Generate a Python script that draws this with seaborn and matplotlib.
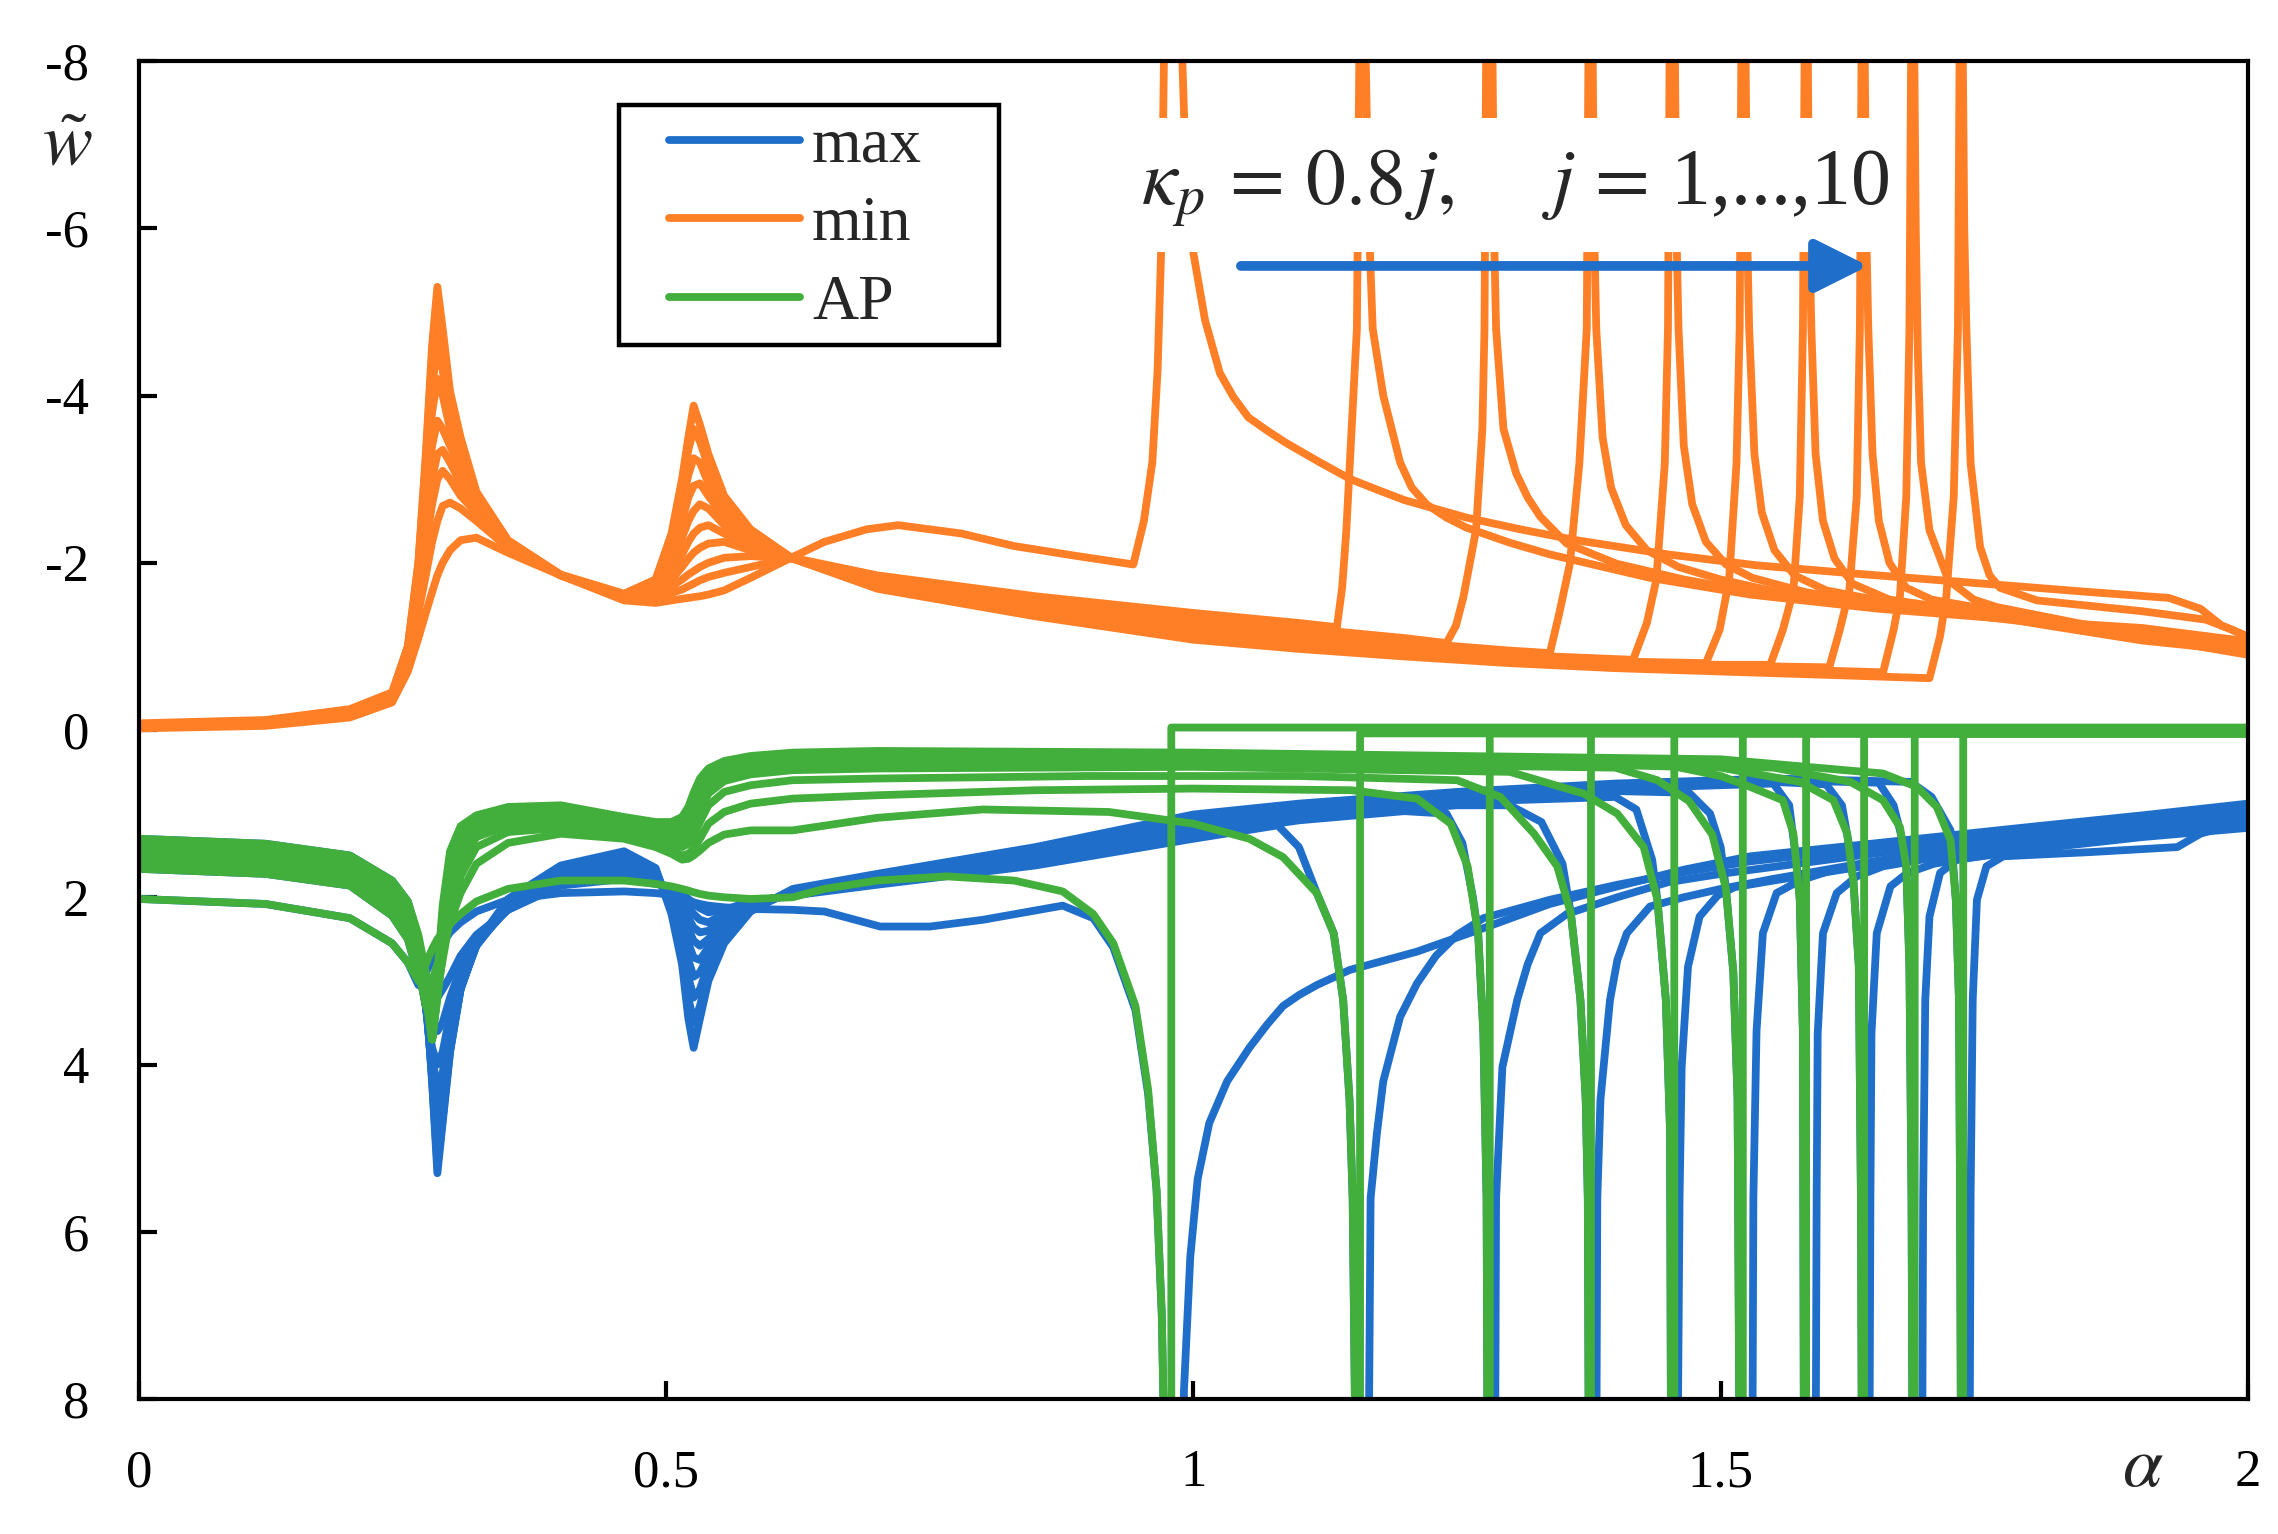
import matplotlib
matplotlib.use("Agg")
import matplotlib.pyplot as plt
from matplotlib.lines import Line2D
from matplotlib.patches import Rectangle
import pandas as pd
import seaborn as sns

# shared alpha grid for the low-frequency part (two first resonances)
ALPHA_LEFT = [0.0, 0.12, 0.2, 0.24, 0.255, 0.265, 0.272, 0.278, 0.283, 0.288, 0.295, 0.305, 0.32,
              0.35, 0.40, 0.46, 0.49, 0.505, 0.515, 0.521, 0.526, 0.532, 0.54, 0.555, 0.58, 0.62]

# "min" curves, j = 1..10, values on ALPHA_LEFT
MIN_LEFT = [
    [-0.02, -0.05, -0.15, -0.33, -0.70, -1.1, -1.4, -1.65, -1.85, -2.0, -2.15, -2.27, -2.3, -2.12, -1.85, -1.55,
     -1.52, -1.55, -1.57, -1.58, -1.59, -1.6, -1.62, -1.67, -1.82, -2.07],
    [-0.03, -0.06, -0.17, -0.35, -0.80, -1.4, -1.85, -2.25, -2.5, -2.68, -2.72, -2.65, -2.5, -2.18, -1.85, -1.56,
     -1.58, -1.64, -1.68, -1.72, -1.75, -1.79, -1.83, -1.88, -1.95, -2.06],
    [-0.03, -0.07, -0.18, -0.37, -0.85, -1.6, -2.2, -2.7, -3.0, -3.1, -3.0, -2.8, -2.6, -2.2, -1.85, -1.57,
     -1.63, -1.72, -1.8, -1.86, -1.9, -1.95, -2.0, -2.06, -2.08, -2.05],
    [-0.04, -0.08, -0.19, -0.38, -0.88, -1.7, -2.5, -3.0, -3.3, -3.35, -3.2, -2.95, -2.65, -2.22, -1.85, -1.58,
     -1.67, -1.8, -1.95, -2.05, -2.12, -2.18, -2.23, -2.25, -2.15, -2.05],
    [-0.05, -0.08, -0.20, -0.40, -0.90, -1.8, -2.7, -3.4, -3.7, -3.6, -3.4, -3.1, -2.7, -2.23, -1.85, -1.59,
     -1.7, -1.9, -2.1, -2.25, -2.35, -2.42, -2.45, -2.35, -2.2, -2.05],
    [-0.05, -0.09, -0.21, -0.41, -0.92, -1.85, -2.9, -3.8, -4.2, -4.0, -3.6, -3.2, -2.75, -2.24, -1.85, -1.6,
     -1.72, -2.0, -2.3, -2.5, -2.62, -2.7, -2.65, -2.45, -2.25, -2.05],
    [-0.06, -0.10, -0.22, -0.42, -0.95, -1.9, -3.0, -4.1, -4.6, -4.3, -3.75, -3.3, -2.78, -2.25, -1.85, -1.6,
     -1.75, -2.1, -2.5, -2.78, -2.92, -2.95, -2.8, -2.55, -2.3, -2.05],
    [-0.07, -0.10, -0.23, -0.43, -0.97, -1.95, -3.1, -4.4, -5.0, -4.6, -3.9, -3.4, -2.8, -2.25, -1.85, -1.61,
     -1.78, -2.2, -2.7, -3.05, -3.25, -3.2, -2.95, -2.65, -2.33, -2.05],
    [-0.07, -0.11, -0.24, -0.44, -1.00, -2.0, -3.2, -4.5, -5.2, -4.7, -4.0, -3.45, -2.82, -2.25, -1.85, -1.62,
     -1.8, -2.3, -2.9, -3.35, -3.6, -3.45, -3.15, -2.75, -2.38, -2.05],
    [-0.08, -0.12, -0.25, -0.45, -1.00, -2.0, -3.3, -4.6, -5.3, -4.8, -4.05, -3.5, -2.85, -2.27, -1.86, -1.63,
     -1.8, -2.35, -3.0, -3.5, -3.88, -3.65, -3.3, -2.8, -2.4, -2.05],
]

# "max" curves on ALPHA_LEFT
MAX_LEFT = [
    [2.02, 2.08, 2.25, 2.55, 2.78, 3.05, 2.9, 2.75, 2.65, 2.55, 2.42, 2.3, 2.17, 2.03, 1.95, 1.93,
     1.95, 1.97, 2.0, 2.03, 2.06, 2.08, 2.1, 2.12, 2.14, 2.15],
    [1.66, 1.72, 1.86, 2.22, 2.5, 2.95, 3.2, 3.25, 3.2, 3.1, 2.95, 2.7, 2.45, 2.15, 1.86, 1.78,
     1.84, 1.88, 1.95, 2.02, 2.08, 2.13, 2.18, 2.15, 2.05, 1.98],
    [1.60, 1.65, 1.80, 2.14, 2.42, 2.85, 3.3, 3.6, 3.6, 3.5, 3.2, 2.85, 2.5, 2.15, 1.83, 1.74,
     1.82, 1.9, 2.02, 2.12, 2.2, 2.27, 2.3, 2.2, 2.06, 1.97],
    [1.55, 1.60, 1.75, 2.08, 2.35, 2.8, 3.3, 3.8, 4.0, 3.85, 3.4, 2.95, 2.55, 2.14, 1.8, 1.7,
     1.8, 1.92, 2.1, 2.25, 2.36, 2.42, 2.4, 2.25, 2.08, 1.96],
    [1.50, 1.56, 1.70, 2.03, 2.3, 2.75, 3.3, 3.9, 4.3, 4.1, 3.55, 3.0, 2.57, 2.12, 1.77, 1.66,
     1.78, 1.96, 2.2, 2.38, 2.52, 2.58, 2.5, 2.3, 2.1, 1.95],
    [1.46, 1.52, 1.66, 1.98, 2.25, 2.7, 3.3, 4.0, 4.6, 4.3, 3.65, 3.05, 2.58, 2.1, 1.74, 1.62,
     1.76, 2.0, 2.3, 2.55, 2.72, 2.75, 2.6, 2.35, 2.12, 1.94],
    [1.42, 1.48, 1.62, 1.93, 2.2, 2.65, 3.25, 4.1, 4.9, 4.5, 3.75, 3.08, 2.58, 2.08, 1.71, 1.58,
     1.73, 2.05, 2.4, 2.75, 2.95, 2.9, 2.7, 2.4, 2.13, 1.93],
    [1.38, 1.44, 1.58, 1.88, 2.15, 2.6, 3.2, 4.15, 5.1, 4.6, 3.8, 3.1, 2.57, 2.06, 1.68, 1.54,
     1.7, 2.1, 2.5, 2.95, 3.2, 3.1, 2.8, 2.45, 2.15, 1.92],
    [1.34, 1.40, 1.54, 1.84, 2.1, 2.55, 3.15, 4.2, 5.2, 4.65, 3.85, 3.1, 2.56, 2.04, 1.65, 1.5,
     1.68, 2.15, 2.65, 3.2, 3.5, 3.3, 2.9, 2.5, 2.16, 1.91],
    [1.30, 1.36, 1.50, 1.80, 2.05, 2.5, 3.1, 4.2, 5.3, 4.7, 3.85, 3.1, 2.55, 2.02, 1.62, 1.45,
     1.65, 2.2, 2.8, 3.45, 3.8, 3.45, 3.0, 2.55, 2.17, 1.9],
]

# "AP" curves on ALPHA_LEFT
AP_LEFT = [
    [2.02, 2.08, 2.25, 2.55, 2.78, 3.0, 2.8, 2.62, 2.5, 2.42, 2.32, 2.2, 2.05, 1.9, 1.8, 1.8,
     1.84, 1.87, 1.9, 1.92, 1.94, 1.96, 1.98, 2.0, 2.02, 2.0],
    [1.66, 1.72, 1.86, 2.22, 2.5, 2.95, 3.2, 3.0, 2.8, 2.6, 2.3, 1.95, 1.6, 1.35, 1.24, 1.3,
     1.4, 1.48, 1.55, 1.54, 1.5, 1.44, 1.35, 1.25, 1.2, 1.2],
    [1.60, 1.65, 1.80, 2.14, 2.42, 2.85, 3.3, 3.45, 3.1, 2.75, 2.25, 1.75, 1.4, 1.22, 1.17, 1.28,
     1.38, 1.45, 1.5, 1.48, 1.42, 1.3, 1.12, 0.98, 0.88, 0.82],
    [1.55, 1.60, 1.75, 2.08, 2.35, 2.75, 3.2, 3.7, 3.2, 2.7, 2.1, 1.58, 1.28, 1.14, 1.1, 1.24,
     1.33, 1.38, 1.4, 1.36, 1.27, 1.1, 0.9, 0.74, 0.66, 0.6],
    [1.50, 1.56, 1.70, 2.03, 2.3, 2.7, 3.15, 3.7, 3.2, 2.6, 1.95, 1.48, 1.22, 1.09, 1.07, 1.2,
     1.28, 1.32, 1.32, 1.26, 1.15, 0.97, 0.76, 0.61, 0.53, 0.48],
    [1.46, 1.52, 1.66, 1.98, 2.25, 2.65, 3.1, 3.7, 3.15, 2.5, 1.85, 1.4, 1.17, 1.05, 1.03, 1.16,
     1.24, 1.27, 1.25, 1.17, 1.06, 0.87, 0.67, 0.54, 0.46, 0.42],
    [1.42, 1.48, 1.62, 1.93, 2.2, 2.6, 3.05, 3.7, 3.1, 2.4, 1.75, 1.32, 1.12, 1.02, 1.0, 1.13,
     1.2, 1.22, 1.19, 1.1, 0.98, 0.78, 0.6, 0.48, 0.41, 0.37],
    [1.38, 1.44, 1.58, 1.88, 2.15, 2.55, 3.0, 3.7, 3.05, 2.3, 1.65, 1.25, 1.08, 0.98, 0.96, 1.1,
     1.16, 1.18, 1.13, 1.04, 0.9, 0.7, 0.55, 0.44, 0.37, 0.33],
    [1.34, 1.40, 1.54, 1.84, 2.1, 2.5, 2.95, 3.7, 3.0, 2.2, 1.55, 1.2, 1.05, 0.95, 0.93, 1.07,
     1.13, 1.14, 1.08, 0.98, 0.82, 0.64, 0.5, 0.4, 0.34, 0.3],
    [1.30, 1.36, 1.50, 1.80, 2.05, 2.45, 2.9, 3.7, 2.9, 2.1, 1.45, 1.15, 1.02, 0.92, 0.90, 1.04,
     1.10, 1.10, 1.04, 0.92, 0.75, 0.58, 0.46, 0.37, 0.31, 0.27],
]

# (alpha, w) points beyond alpha = 0.62, j = 1..10 (|w| = 9 is off-scale, near the third resonance)
MIN_TAILS = [
    [(0.65, -2.25), (0.69, -2.4), (0.72, -2.45), (0.78, -2.35), (0.83, -2.2), (0.89, -2.08), (0.943, -1.98),
     (0.953, -2.5), (0.961, -3.2), (0.966, -4.3), (0.970, -6.0), (0.973, -9.0), (0.987, -9.0), (0.992, -7.0),
     (0.996, -6.3), (1.0, -5.7), (1.011, -4.9), (1.025, -4.27), (1.038, -3.98), (1.052, -3.74), (1.07, -3.58),
     (1.087, -3.44), (1.12, -3.2), (1.149, -3.0), (1.175, -2.87), (1.2, -2.75), (1.259, -2.54), (1.31, -2.4),
     (1.363, -2.27), (1.45, -2.1), (1.534, -1.97), (1.638, -1.86), (1.75, -1.75), (1.85, -1.65), (1.925, -1.58),
     (1.955, -1.45), (1.975, -1.25), (2.0, -1.12)],
    [(0.7, -1.85), (0.85, -1.6), (1.0, -1.4), (1.1, -1.28), (1.136, -1.23), (1.141, -1.7), (1.145, -2.39),
     (1.150, -3.6), (1.155, -4.8), (1.158, -9.0), (1.162, -9.0), (1.166, -6.2), (1.170, -4.8), (1.180, -4.0),
     (1.196, -3.2), (1.207, -2.9), (1.221, -2.7), (1.24, -2.54), (1.259, -2.42), (1.3, -2.24), (1.338, -2.1),
     (1.433, -1.82), (1.528, -1.62), (1.65, -1.45), (1.8, -1.3), (1.9, -1.22), (2.0, -1.06)],
    [(0.7, -1.83), (0.85, -1.57), (1.0, -1.36), (1.1, -1.22), (1.2, -1.1), (1.24, -1.04), (1.249, -1.25),
     (1.256, -1.59), (1.268, -2.39), (1.274, -3.6), (1.276, -4.8), (1.278, -9.0), (1.283, -9.0), (1.285, -6.0),
     (1.287, -4.8), (1.294, -3.6), (1.306, -3.07), (1.317, -2.78), (1.329, -2.55), (1.354, -2.23), (1.401, -1.99),
     (1.465, -1.8), (1.528, -1.66), (1.65, -1.48), (1.8, -1.3), (1.9, -1.18), (2.0, -1.03)],
    [(0.7, -1.81), (0.85, -1.54), (1.0, -1.32), (1.1, -1.18), (1.2, -1.05), (1.3, -0.95), (1.338, -0.92),
     (1.347, -1.4), (1.357, -1.99), (1.366, -3.19), (1.373, -4.8), (1.375, -9.0), (1.378, -9.0), (1.380, -6.0),
     (1.382, -4.8), (1.388, -3.5), (1.396, -2.9), (1.41, -2.45), (1.43, -2.15), (1.46, -1.95), (1.5, -1.8),
     (1.55, -1.66), (1.65, -1.5), (1.8, -1.3), (1.9, -1.15), (2.0, -1.0)],
    [(0.7, -1.79), (0.85, -1.51), (1.0, -1.28), (1.1, -1.14), (1.2, -1.01), (1.3, -0.9), (1.417, -0.84),
     (1.43, -1.28), (1.439, -1.8), (1.447, -3.19), (1.450, -4.8), (1.452, -9.0), (1.456, -9.0), (1.458, -6.0),
     (1.460, -4.8), (1.465, -3.4), (1.473, -2.7), (1.486, -2.25), (1.505, -1.98), (1.53, -1.82), (1.58, -1.65),
     (1.65, -1.5), (1.8, -1.28), (1.9, -1.13), (2.0, -0.98)],
    [(0.7, -1.77), (0.85, -1.48), (1.0, -1.24), (1.1, -1.1), (1.2, -0.97), (1.3, -0.87), (1.4, -0.82),
     (1.486, -0.8), (1.499, -1.2), (1.508, -1.8), (1.515, -3.19), (1.518, -4.8), (1.520, -9.0), (1.523, -9.0),
     (1.525, -6.0), (1.527, -4.8), (1.532, -3.3), (1.539, -2.6), (1.551, -2.15), (1.57, -1.85), (1.6, -1.67),
     (1.65, -1.55), (1.8, -1.28), (1.9, -1.1), (2.0, -0.96)],
    [(0.7, -1.75), (0.85, -1.45), (1.0, -1.2), (1.1, -1.06), (1.2, -0.94), (1.3, -0.85), (1.4, -0.8),
     (1.5, -0.78), (1.547, -0.78), (1.559, -1.2), (1.569, -1.67), (1.575, -2.79), (1.578, -4.8), (1.580, -9.0),
     (1.582, -9.0), (1.584, -6.0), (1.586, -4.8), (1.590, -3.3), (1.597, -2.5), (1.608, -2.05), (1.625, -1.75),
     (1.66, -1.56), (1.72, -1.45), (1.8, -1.27), (1.9, -1.07), (2.0, -0.94)],
    [(0.7, -1.73), (0.85, -1.42), (1.0, -1.16), (1.1, -1.03), (1.2, -0.92), (1.3, -0.84), (1.4, -0.79),
     (1.5, -0.77), (1.603, -0.75), (1.613, -1.2), (1.622, -1.67), (1.629, -2.79), (1.632, -4.8), (1.634, -9.0),
     (1.636, -9.0), (1.638, -6.0), (1.640, -4.8), (1.644, -3.3), (1.650, -2.5), (1.660, -2.0), (1.676, -1.7),
     (1.70, -1.56), (1.75, -1.45), (1.85, -1.2), (1.93, -1.05), (2.0, -0.92)],
    [(0.7, -1.71), (0.85, -1.39), (1.0, -1.12), (1.1, -1.0), (1.2, -0.9), (1.3, -0.82), (1.4, -0.77),
     (1.5, -0.74), (1.6, -0.71), (1.654, -0.69), (1.664, -1.2), (1.67, -1.6), (1.676, -2.79), (1.679, -4.8),
     (1.681, -9.0), (1.683, -9.0), (1.685, -6.0), (1.687, -4.5), (1.690, -3.2), (1.698, -2.39), (1.716, -1.79),
     (1.74, -1.56), (1.762, -1.47), (1.85, -1.25), (1.93, -1.05), (2.0, -0.9)],
    [(0.7, -1.69), (0.85, -1.36), (1.0, -1.08), (1.1, -0.97), (1.2, -0.88), (1.3, -0.8), (1.4, -0.74),
     (1.5, -0.7), (1.6, -0.66), (1.698, -0.62), (1.708, -1.12), (1.714, -1.6), (1.721, -2.79), (1.725, -4.8),
     (1.727, -9.0), (1.729, -9.0), (1.731, -6.0), (1.733, -4.8), (1.737, -3.19), (1.746, -2.19), (1.755, -1.85),
     (1.765, -1.7), (1.8, -1.55), (1.9, -1.42), (1.96, -1.32), (1.985, -1.2), (2.0, -1.1)],
]

MAX_TAILS = [
    [(0.65, 2.17), (0.703, 2.35), (0.75, 2.35), (0.8, 2.27), (0.876, 2.1), (0.905, 2.25), (0.924, 2.6),
     (0.945, 3.35), (0.957, 4.35), (0.965, 5.5), (0.970, 7.0), (0.973, 9.0), (0.990, 9.0), (0.991, 7.9),
     (0.997, 6.3), (1.004, 5.37), (1.015, 4.7), (1.032, 4.2), (1.053, 3.8), (1.07, 3.52), (1.085, 3.3),
     (1.1, 3.17), (1.117, 3.05), (1.148, 2.87), (1.18, 2.76), (1.212, 2.65), (1.275, 2.37), (1.338, 2.08),
     (1.402, 1.87), (1.465, 1.67), (1.528, 1.51), (1.65, 1.35), (1.8, 1.15), (1.9, 1.02), (2.0, 0.88)],
    [(0.7, 1.85), (0.85, 1.62), (1.0, 1.3), (1.08, 1.14), (1.1, 1.4), (1.117, 1.95), (1.133, 2.43),
     (1.142, 3.23), (1.148, 4.42), (1.151, 5.6), (1.154, 9.0), (1.166, 9.0), (1.168, 5.6), (1.174, 4.82),
     (1.18, 4.2), (1.196, 3.43), (1.212, 3.03), (1.23, 2.7), (1.25, 2.45), (1.275, 2.25), (1.338, 2.03),
     (1.402, 1.85), (1.465, 1.7), (1.528, 1.57), (1.65, 1.4), (1.8, 1.18), (1.9, 1.05), (2.0, 0.92)],
    [(0.7, 1.83), (0.85, 1.59), (1.0, 1.26), (1.1, 1.08), (1.2, 0.97), (1.24, 1.0), (1.255, 1.35),
     (1.265, 2.0), (1.27, 2.43), (1.275, 3.63), (1.278, 5.6), (1.279, 9.0), (1.286, 9.0), (1.287, 5.6),
     (1.293, 4.03), (1.307, 3.23), (1.317, 2.8), (1.329, 2.43), (1.354, 2.2), (1.402, 2.0), (1.45, 1.82),
     (1.5, 1.72), (1.65, 1.47), (1.8, 1.22), (1.9, 1.09), (2.0, 0.96)],
    [(0.7, 1.81), (0.85, 1.56), (1.0, 1.22), (1.1, 1.04), (1.25, 0.9), (1.3, 0.9), (1.33, 1.1), (1.35, 1.6),
     (1.358, 2.2), (1.367, 3.23), (1.372, 4.42), (1.374, 5.6), (1.375, 9.0), (1.382, 9.0), (1.383, 5.6),
     (1.386, 4.42), (1.395, 3.23), (1.402, 2.75), (1.411, 2.43), (1.433, 2.11), (1.465, 2.0), (1.5, 1.9),
     (1.55, 1.78), (1.65, 1.56), (1.8, 1.26), (1.9, 1.12), (2.0, 1.0)],
    [(0.7, 1.8), (0.85, 1.53), (1.0, 1.18), (1.1, 1.0), (1.25, 0.86), (1.4, 0.8), (1.42, 0.95), (1.435, 1.55),
     (1.44, 2.03), (1.448, 3.23), (1.452, 4.8), (1.453, 9.0), (1.459, 9.0), (1.461, 5.6), (1.463, 4.03),
     (1.469, 2.83), (1.48, 2.23), (1.497, 1.98), (1.513, 1.88), (1.55, 1.8), (1.65, 1.6), (1.8, 1.3),
     (1.9, 1.15), (2.0, 1.03)],
    [(0.7, 1.78), (0.85, 1.5), (1.0, 1.14), (1.1, 0.97), (1.25, 0.83), (1.4, 0.73), (1.47, 0.75), (1.49, 1.0),
     (1.5, 1.4), (1.505, 1.9), (1.512, 2.9), (1.516, 4.4), (1.518, 9.0), (1.530, 9.0), (1.531, 5.6),
     (1.534, 3.6), (1.54, 2.43), (1.553, 1.95), (1.575, 1.8), (1.607, 1.67), (1.7, 1.5), (1.8, 1.33),
     (1.9, 1.18), (2.0, 1.06)],
    [(0.7, 1.77), (0.85, 1.47), (1.0, 1.1), (1.1, 0.94), (1.25, 0.8), (1.4, 0.7), (1.55, 0.64), (1.565, 0.9),
     (1.572, 1.6), (1.575, 2.03), (1.578, 3.63), (1.579, 9.0), (1.590, 9.0), (1.591, 5.6), (1.592, 3.63),
     (1.597, 2.43), (1.61, 1.95), (1.629, 1.75), (1.654, 1.63), (1.7, 1.53), (1.8, 1.36), (1.9, 1.21),
     (2.0, 1.1)],
    [(0.7, 1.75), (0.85, 1.44), (1.0, 1.07), (1.1, 0.92), (1.25, 0.78), (1.4, 0.68), (1.55, 0.62), (1.6, 0.65),
     (1.615, 0.9), (1.622, 1.4), (1.626, 1.83), (1.631, 2.83), (1.633, 5.6), (1.634, 9.0), (1.641, 9.0),
     (1.642, 5.6), (1.643, 3.63), (1.648, 2.43), (1.661, 1.87), (1.677, 1.71), (1.702, 1.6), (1.8, 1.39),
     (1.9, 1.24), (2.0, 1.13)],
    [(0.7, 1.74), (0.85, 1.42), (1.0, 1.04), (1.1, 0.9), (1.25, 0.76), (1.4, 0.66), (1.55, 0.6), (1.65, 0.63),
     (1.664, 0.9), (1.672, 1.3), (1.676, 1.63), (1.679, 2.83), (1.681, 5.6), (1.682, 9.0), (1.691, 9.0),
     (1.692, 5.6), (1.694, 3.23), (1.698, 2.23), (1.708, 1.71), (1.724, 1.55), (1.8, 1.42), (1.9, 1.28),
     (2.0, 1.17)],
    [(0.7, 1.72), (0.85, 1.4), (1.0, 1.01), (1.1, 0.88), (1.25, 0.74), (1.4, 0.64), (1.55, 0.58), (1.68, 0.62),
     (1.70, 0.8), (1.718, 1.2), (1.723, 2.03), (1.726, 3.23), (1.727, 5.6), (1.728, 9.0), (1.736, 9.0),
     (1.737, 5.6), (1.739, 3.23), (1.743, 2.03), (1.752, 1.63), (1.768, 1.51), (1.85, 1.46), (1.933, 1.4),
     (1.955, 1.24), (1.977, 1.16), (2.0, 1.04)],
]

AP_TAILS = [
    [(0.65, 1.9), (0.7, 1.8), (0.766, 1.75), (0.83, 1.8), (0.876, 1.93), (0.905, 2.2), (0.924, 2.55),
     (0.945, 3.3), (0.957, 4.3), (0.965, 5.5), (0.970, 7.0), (0.973, 9.0), (0.979, 9.0), (0.979, -0.03),
     (2.0, -0.03)],
    [(0.7, 1.05), (0.8, 0.95), (0.92, 0.98), (1.0, 1.12), (1.053, 1.3), (1.085, 1.52), (1.117, 1.95),
     (1.133, 2.43), (1.142, 3.23), (1.148, 4.42), (1.151, 5.6), (1.154, 9.0), (1.158, 9.0), (1.158, 0.04),
     (2.0, 0.04)],
    [(0.7, 0.78), (0.85, 0.72), (1.0, 0.7), (1.15, 0.72), (1.212, 0.82), (1.244, 1.12), (1.26, 1.63),
     (1.27, 2.43), (1.275, 3.63), (1.278, 5.6), (1.279, 9.0), (1.281, 9.0), (1.281, 0.04), (2.0, 0.04)],
    [(0.7, 0.58), (0.9, 0.55), (1.1, 0.55), (1.25, 0.6), (1.291, 0.8), (1.323, 1.24), (1.345, 1.63),
     (1.358, 2.2), (1.367, 3.23), (1.372, 4.42), (1.374, 5.6), (1.375, 9.0), (1.377, 9.0), (1.377, 0.04),
     (2.0, 0.04)],
    [(0.7, 0.46), (1.0, 0.44), (1.3, 0.5), (1.37, 0.76), (1.402, 1.0), (1.427, 1.4), (1.44, 2.03),
     (1.448, 3.23), (1.452, 4.8), (1.453, 9.0), (1.456, 9.0), (1.456, 0.04), (2.0, 0.04)],
    [(0.7, 0.4), (1.0, 0.38), (1.4, 0.45), (1.44, 0.6), (1.47, 0.85), (1.492, 1.25), (1.505, 1.9),
     (1.512, 2.9), (1.516, 4.4), (1.518, 9.0), (1.521, 9.0), (1.521, 0.04), (2.0, 0.04)],
    [(0.7, 0.35), (1.0, 0.33), (1.45, 0.42), (1.5, 0.55), (1.528, 0.68), (1.559, 0.84), (1.569, 1.24),
     (1.575, 2.03), (1.578, 3.63), (1.579, 9.0), (1.581, 9.0), (1.581, 0.04), (2.0, 0.04)],
    [(0.7, 0.3), (1.0, 0.3), (1.5, 0.45), (1.575, 0.62), (1.607, 0.84), (1.62, 1.24), (1.626, 1.83),
     (1.631, 2.83), (1.633, 5.6), (1.634, 9.0), (1.636, 9.0), (1.636, 0.04), (2.0, 0.04)],
    [(0.7, 0.27), (1.0, 0.28), (1.55, 0.45), (1.623, 0.62), (1.654, 0.84), (1.67, 1.16), (1.676, 1.63),
     (1.679, 2.83), (1.681, 5.6), (1.682, 9.0), (1.684, 9.0), (1.684, 0.04), (2.0, 0.04)],
    [(0.7, 0.25), (1.0, 0.27), (1.5, 0.35), (1.654, 0.52), (1.686, 0.68), (1.705, 0.92), (1.718, 1.32),
     (1.723, 2.03), (1.726, 3.23), (1.727, 5.6), (1.728, 9.0), (1.730, 9.0), (1.730, 0.04), (2.0, 0.04)],
]

X_TICKS = [0, 0.5, 1, 1.5, 2]
X_TICK_LABELS = ["0", "0.5", "1", "1.5", "2"]
Y_TICKS = [-8, -6, -4, -2, 0, 2, 4, 6, 8]
Y_TICK_LABELS = ["-8", "-6", "-4", "-2", "0", "2", "4", "6", "8"]

COLORS = {"max": "#1f6fca", "min": "#ff7f27", "AP": "#42ae3b"}
LW = 5.6


def build_frame():
    rows = []
    for fam, left, tails in [("max", MAX_LEFT, MAX_TAILS), ("AP", AP_LEFT, AP_TAILS),
                             ("min", MIN_LEFT, MIN_TAILS)]:
        for j in range(10):
            alphas = ALPHA_LEFT + [p[0] for p in tails[j]]
            ws = left[j] + [p[1] for p in tails[j]]
            for k, (a, w) in enumerate(zip(alphas, ws)):
                rows.append({"family": fam, "curve": f"{fam}-{j + 1}", "order": k, "alpha": a, "w": w})
    return pd.DataFrame(rows)


def main():
    df = build_frame()

    sns.set_theme(style="white")
    plt.rcParams["font.family"] = ["Liberation Serif", "DejaVu Serif"]
    plt.rcParams["mathtext.fontset"] = "stix"
    plt.rcParams["axes.unicode_minus"] = False

    fig = plt.figure(figsize=(22.78, 15.34), dpi=100)
    ax = fig.add_axes([0.061, 0.088, 0.9258, 0.8722])

    # draw order: max below AP, min on its own
    for fam in ["max", "AP", "min"]:
        sub = df[df["family"] == fam]
        sns.lineplot(data=sub, x="alpha", y="w", units="curve", estimator=None, sort=False,
                     color=COLORS[fam], linewidth=LW, legend=False, ax=ax)

    ax.set_xlim(0, 2)
    ax.set_ylim(8, -8)
    ax.set_xticks(X_TICKS)
    ax.set_xticklabels(X_TICK_LABELS)
    ax.set_yticks(Y_TICKS)
    ax.set_yticklabels(Y_TICK_LABELS)
    ax.set_xlabel("")
    ax.set_ylabel("")
    ax.tick_params(axis="both", direction="in", length=13, width=3, labelsize=38, pad=36,
                   colors="black", top=False, right=False, bottom=True, left=True)
    for s in ax.spines.values():
        s.set_linewidth(3)
        s.set_color("black")

    ax.text(-0.034, 0.936, r"$\tilde{w}$", transform=ax.transAxes, fontsize=54,
            ha="center", va="center")
    ax.text(0.950, -0.052, r"$\alpha$", transform=ax.transAxes, fontsize=52,
            ha="center", va="center")

    # kappa annotation: white panel behind the text, then the arrow
    ax.add_patch(Rectangle((0.940, -7.32), 0.728, 1.60, facecolor="white", edgecolor="none", zorder=4))
    ax.text(1.305, -6.47, r"$\kappa_p\,=\,0.8\,j,\quad\;\, j\,=\,$1,...,10", fontsize=57.5,
            ha="center", va="center", zorder=5)
    ax.annotate("", xy=(1.640, -5.55), xytext=(1.045, -5.55), zorder=6,
                arrowprops=dict(arrowstyle="-|>,head_length=0.4,head_width=0.2", color=COLORS["max"],
                                lw=7, mutation_scale=80, shrinkA=0, shrinkB=0))

    # legend: frame drawn separately so the side padding can differ from the row padding
    ax.add_patch(Rectangle((0.2276, 0.7877), 0.1802, 0.1794, transform=ax.transAxes,
                           facecolor="white", edgecolor="black", linewidth=3.2, zorder=7))
    handles = [Line2D([0], [0], color=COLORS[k], lw=LW) for k in ["max", "min", "AP"]]
    leg = ax.legend(handles, ["max", "min", "AP"], loc="upper left", bbox_to_anchor=(0.2513, 0.958),
                    fontsize=46, frameon=False, handlelength=2.05, handletextpad=0.19,
                    labelspacing=0.31, borderpad=0, borderaxespad=0)
    leg.set_zorder(8)

    fig.savefig("out.png", dpi=100)


if __name__ == "__main__":
    main()
